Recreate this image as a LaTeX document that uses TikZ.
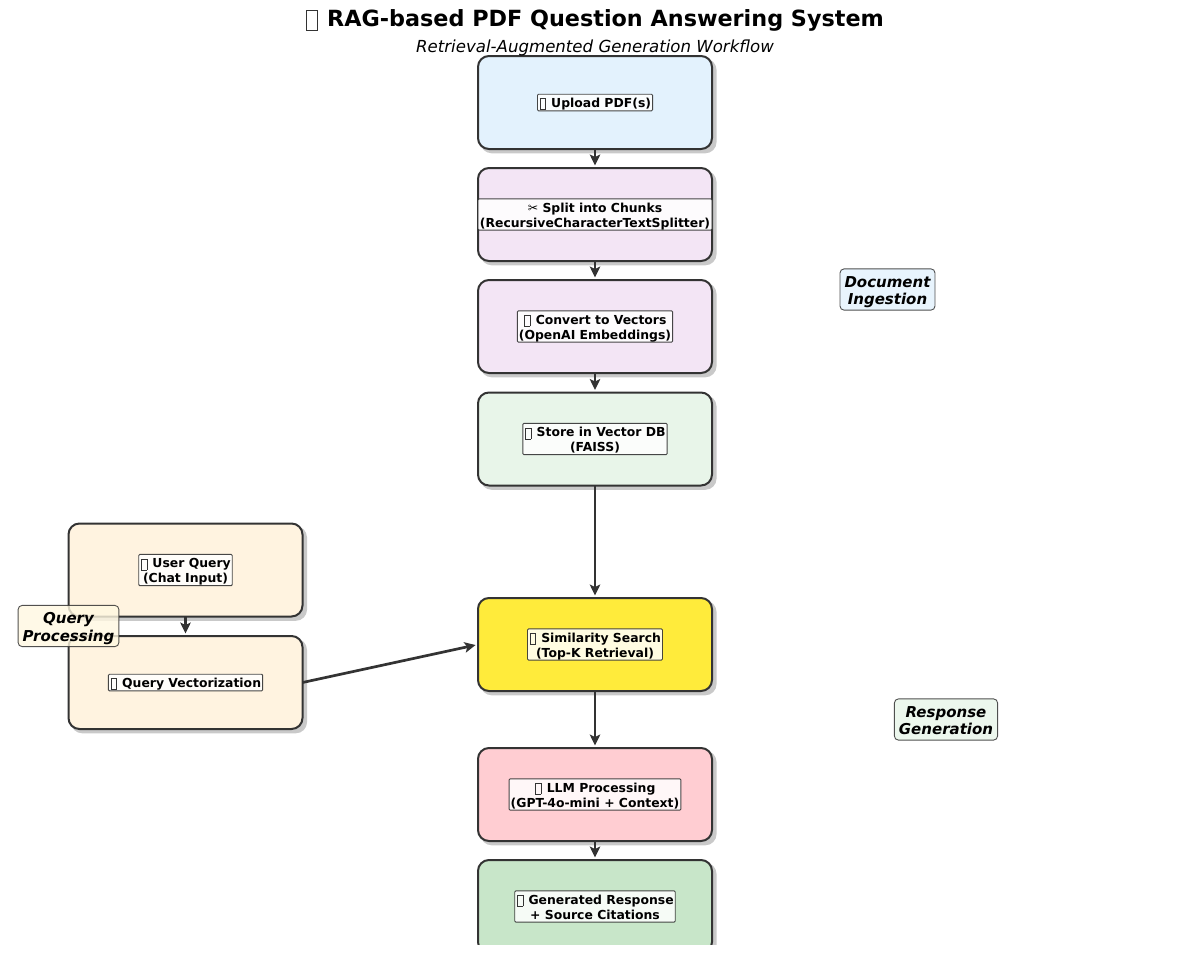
\documentclass[tikz,border=0pt]{standalone}
\usepackage{fontspec}
\setmainfont{DejaVu Sans}
\usetikzlibrary{arrows.meta}
\definecolor{edgec}{HTML}{333333}
\newcommand{\tofu}{\kern0.06em\raisebox{-0.14em}{\color{edgec}\setlength{\fboxsep}{0pt}\setlength{\fboxrule}{0.04em}\fbox{\rule{0pt}{0.85em}\hspace{0.42em}}}\kern0.08em}
\newcommand{\stacked}[2][-2.3pt]{\raisebox{#1}[\height][\depth]{\begin{tabular}{@{}c@{}}#2\end{tabular}}}
\tikzset{
  flowbox/.style={draw=edgec,line width=2pt,rounded corners=11pt,minimum width=234pt,minimum height=93pt,inner sep=0pt,outer sep=0pt},
  shadowbox/.style={fill=black,fill opacity=0.21,rounded corners=11pt,minimum width=236pt,minimum height=94.5pt,inner sep=0pt,outer sep=0pt},
  steplabel/.style={draw=edgec,line width=0.9pt,fill=white,fill opacity=0.85,text opacity=1,draw opacity=0.9,rounded corners=1pt,inner xsep=1.5pt,inner ysep=1pt,font=\fontsize{12.4pt}{14.6pt}\selectfont\bfseries},
  sidelabel/.style={draw=edgec,line width=0.9pt,fill opacity=0.8,text opacity=1,draw opacity=0.85,rounded corners=4pt,inner xsep=4.5pt,inner ysep=3pt,font=\fontsize{15pt}{17.6pt}\selectfont\bfseries\itshape},
  flowarrow/.style={draw=edgec,line width=2.7pt,-{Stealth[length=11pt,width=10.5pt,inset=2.5pt]},shorten >=2.5pt,shorten <=0pt},
}
\begin{document}
\begin{tikzpicture}[x=1pt,y=-1pt]
\useasboundingbox (0,0) rectangle (1189,954);
\fill[white] (0,0) rectangle (1189,954);
\begin{scope}
\clip (0,0) rectangle (1189,944);
\foreach \cx/\cy in {595/102.5,595/214.5,595/326.5,595/439,595/644.5,595/794.5,595/906.5,185.5/570,185.5/682.5}
  \node[shadowbox] at (\cx+3.5,\cy+3.5) {};
\node[flowbox,fill={rgb,255:red,227;green,242;blue,253}] (upload) at (595,102.5) {};
\node[flowbox,fill={rgb,255:red,243;green,229;blue,245}] (split) at (595,214.5) {};
\node[flowbox,fill={rgb,255:red,243;green,229;blue,245}] (vectors) at (595,326.5) {};
\node[flowbox,fill={rgb,255:red,232;green,245;blue,233}] (store) at (595,439) {};
\node[flowbox,fill={rgb,255:red,255;green,235;blue,59}] (search) at (595,644.5) {};
\node[flowbox,fill={rgb,255:red,255;green,205;blue,210}] (llm) at (595,794.5) {};
\node[flowbox,fill={rgb,255:red,200;green,230;blue,201}] (response) at (595,906.5) {};
\node[flowbox,fill={rgb,255:red,255;green,243;blue,224}] (query) at (185.5,570) {};
\node[flowbox,fill={rgb,255:red,255;green,243;blue,224}] (vectorize) at (185.5,682.5) {};
\end{scope}
\draw[flowarrow] (upload.south) -- (split.north);
\draw[flowarrow] (split.south) -- (vectors.north);
\draw[flowarrow] (vectors.south) -- (store.north);
\draw[flowarrow] (store.south) -- (search.north);
\draw[flowarrow] (search.south) -- (llm.north);
\draw[flowarrow] (llm.south) -- (response.north);
\draw[flowarrow] (query.south) -- (vectorize.north);
\draw[flowarrow] (vectorize.east) -- (search.west);
\node[steplabel] (lupload) at (595,102.5) {\stacked{\tofu{} Upload PDF(s)}};
\node[steplabel,minimum width=234pt] (lsplit) at (595,214.5) {\stacked{✂ Split into Chunks\\(RecursiveCharacterTextSplitter)}};
\node[steplabel] (lvectors) at (595,326.5) {\stacked{\tofu{} Convert to Vectors\\(OpenAI Embeddings)}};
\node[steplabel] (lstore) at (595,439) {\stacked{\tofu{} Store in Vector DB\\(FAISS)}};
\node[steplabel] (lsearch) at (595,644.5) {\stacked{\tofu{} Similarity Search\\(Top-K Retrieval)}};
\node[steplabel] (lllm) at (595,794.5) {\stacked{\tofu{} LLM Processing\\(GPT-4o-mini + Context)}};
\node[steplabel] (lresponse) at (595,906.5) {\stacked{\tofu{} Generated Response\\+ Source Citations}};
\node[steplabel] (lquery) at (185.5,570) {\stacked{\tofu{} User Query\\(Chat Input)}};
\node[steplabel] (lvectorize) at (185.5,682.5) {\stacked{\tofu{} Query Vectorization}};
\node[sidelabel,fill={rgb,255:red,227;green,242;blue,253}] (ingest) at (887.5,289.5) {\stacked[-3pt]{Document\\Ingestion}};
\node[sidelabel,fill={rgb,255:red,255;green,248;blue,225}] (qproc) at (68.5,626) {\stacked[-3pt]{Query\\Processing}};
\node[sidelabel,fill={rgb,255:red,232;green,245;blue,233}] (rgen) at (946,719.5) {\stacked[-3pt]{Response\\Generation}};
\node[font=\fontsize{22.3pt}{26pt}\selectfont\bfseries] (title) at (594.5,20.5) {\tofu{} RAG-based PDF Question Answering System};
\node[font=\fontsize{16.6pt}{20pt}\selectfont\itshape] (subtitle) at (595,47.5) {Retrieval-Augmented Generation Workflow};
\end{tikzpicture}
\end{document}
